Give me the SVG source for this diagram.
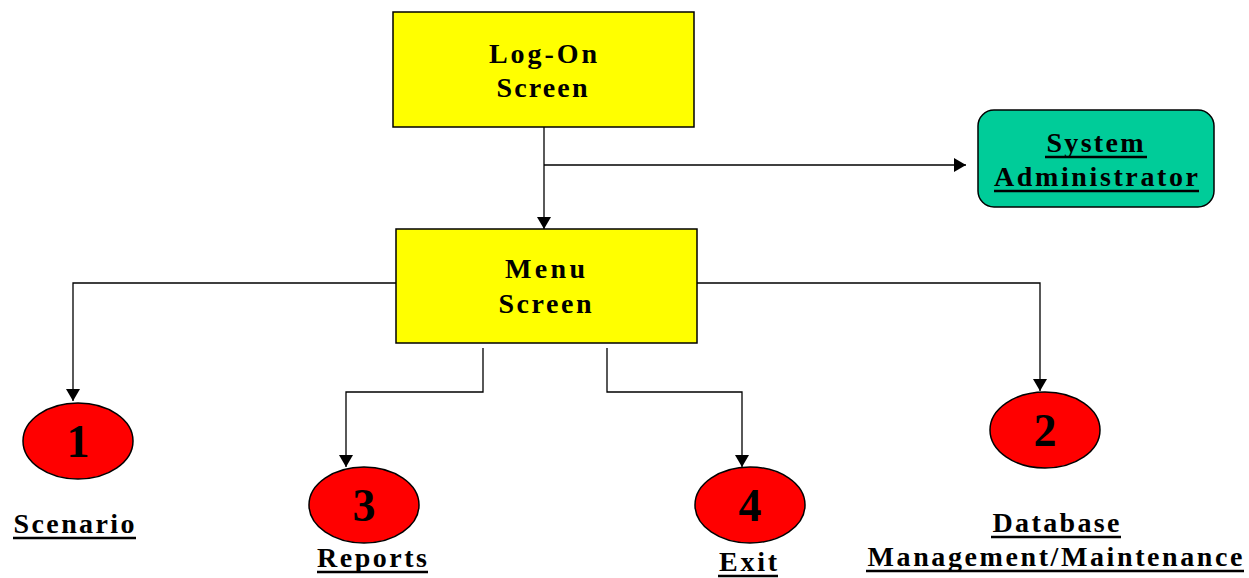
<svg xmlns="http://www.w3.org/2000/svg" width="1249" height="578" viewBox="0 0 1249 578">
<defs>
<marker id="ah" viewBox="0 0 12 14" refX="12" refY="7" markerWidth="12" markerHeight="14" markerUnits="userSpaceOnUse" orient="auto"><path d="M0,0 L12,7 L0,14 Z" fill="#000"/></marker>
<style>
.box{fill:#FFFF00;stroke:#000;stroke-width:1.5}
.adm{fill:#00CC99;stroke:#000;stroke-width:1.5}
.oval{fill:#FF0000;stroke:#000;stroke-width:1.5}
.t{font-family:"Liberation Serif","Times New Roman",serif;font-weight:bold;font-size:28px;fill:#000;text-anchor:middle}
.d{font-family:"Liberation Serif","Times New Roman",serif;font-weight:bold;font-size:46px;fill:#000;text-anchor:middle}
.c{fill:none;stroke:#000;stroke-width:1.3}
.u{stroke:#000;stroke-width:2.5}
</style>
</defs>
<g id="connectors">
<path class="c" d="M544,127 V229" marker-end="url(#ah)"/>
<path class="c" d="M544,165 H966" marker-end="url(#ah)"/>
<path class="c" d="M396,283 H73 V401" marker-end="url(#ah)"/>
<path class="c" d="M697,283 H1040 V391" marker-end="url(#ah)"/>
<path class="c" d="M483,348 V392 H346 V467" marker-end="url(#ah)"/>
<path class="c" d="M607,348 V392 H742 V467" marker-end="url(#ah)"/>
</g>
<g id="logon">
<rect class="box" x="393" y="12" width="301" height="115"/>
<text class="t" x="543" y="63" textLength="108" lengthAdjust="spacing">Log-On</text>
<text class="t" x="542" y="97" textLength="91" lengthAdjust="spacing">Screen</text>
</g>
<g id="sysadmin">
<rect class="adm" x="978" y="110" width="236" height="97" rx="16"/>
<text class="t" x="1095" y="152" textLength="97" lengthAdjust="spacing">System</text>
<text class="t" x="1096" y="186" textLength="204" lengthAdjust="spacing">Administrator</text>
<line class="u" x1="1045" y1="157" x2="1147" y2="157"/>
<line class="u" x1="994" y1="191" x2="1199" y2="191"/>
</g>
<g id="menu">
<rect class="box" x="396" y="229" width="301" height="114"/>
<text class="t" x="545" y="278" textLength="80" lengthAdjust="spacing">Menu</text>
<text class="t" x="545" y="313" textLength="93" lengthAdjust="spacing">Screen</text>
</g>
<g id="n1">
<ellipse class="oval" cx="78" cy="441" rx="55" ry="38"/>
<text class="d" x="78" y="457">1</text>
<text class="t" x="74" y="533" textLength="121" lengthAdjust="spacing">Scenario</text>
<line class="u" x1="13" y1="538" x2="136" y2="538"/>
</g>
<g id="n3">
<ellipse class="oval" cx="364" cy="505" rx="55" ry="38"/>
<text class="d" x="364" y="521">3</text>
<text class="t" x="372" y="567" textLength="110" lengthAdjust="spacing">Reports</text>
<line class="u" x1="317" y1="572" x2="428" y2="572"/>
</g>
<g id="n4">
<ellipse class="oval" cx="750" cy="505" rx="55" ry="38"/>
<text class="d" x="748" y="571" style="font-size:28px" textLength="58" lengthAdjust="spacing">Exit</text>
<text class="d" x="750" y="521">4</text>
<line class="u" x1="718" y1="576" x2="778" y2="576"/>
</g>
<g id="n2">
<ellipse class="oval" cx="1045" cy="430" rx="55" ry="38"/>
<text class="d" x="1045" y="446">2</text>
<text class="t" x="1056" y="532" textLength="127" lengthAdjust="spacing">Database</text>
<text class="t" x="1055" y="566" textLength="375" lengthAdjust="spacing">Management/Maintenance</text>
<line class="u" x1="991" y1="537" x2="1121" y2="537"/>
<line class="u" x1="866" y1="571" x2="1244" y2="571"/>
</g>
</svg>
